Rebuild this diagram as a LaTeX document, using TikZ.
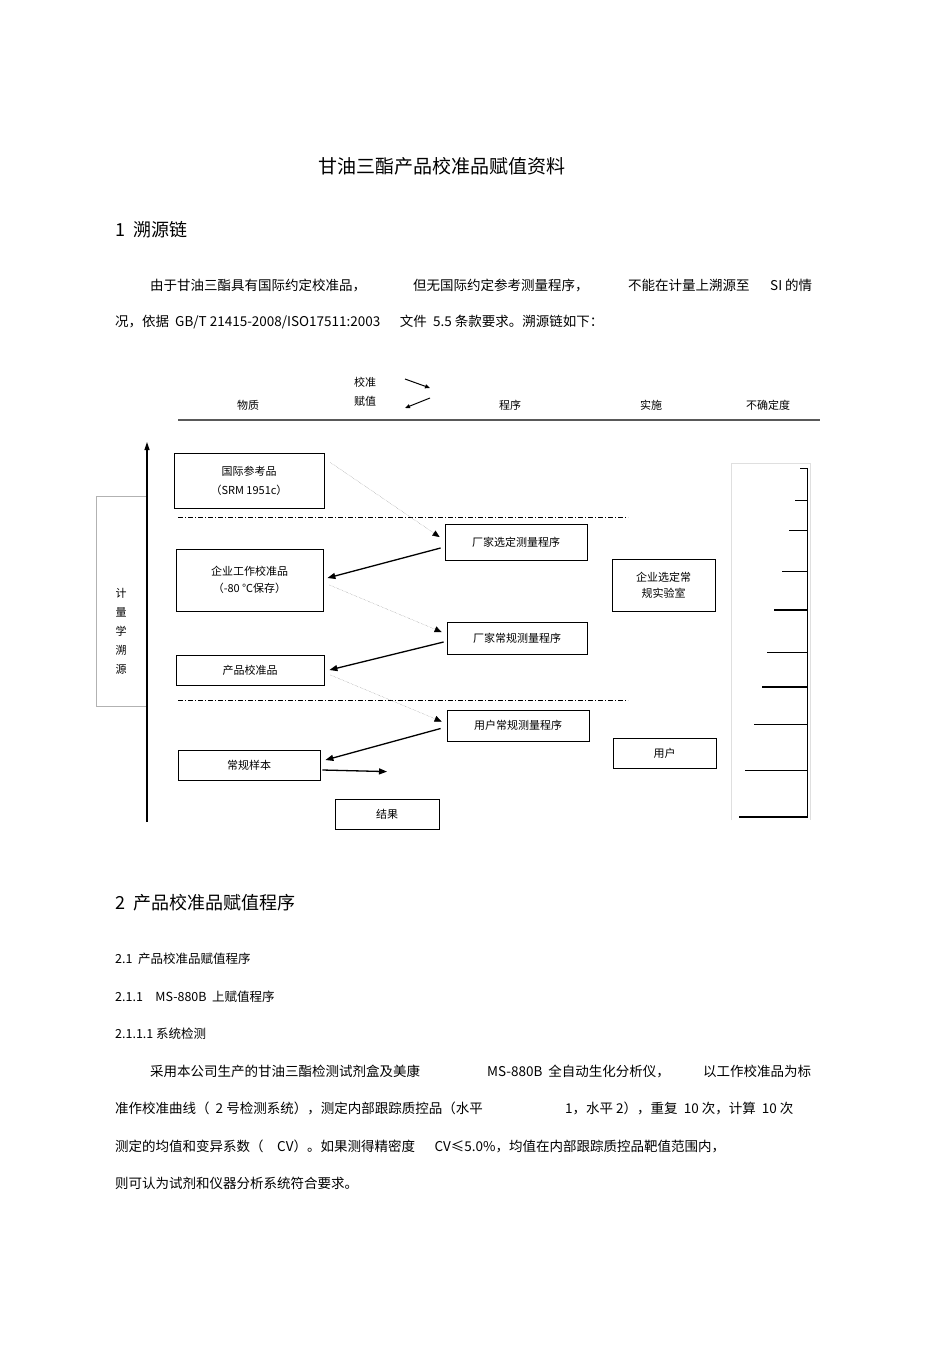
\documentclass[tikz,border=0pt]{standalone}
\usepackage{fontspec}
\setmainfont{Noto Sans CJK SC}
\usetikzlibrary{arrows.meta}
\begin{document}
\begin{tikzpicture}[x=1pt,y=-1pt,
  bx/.style={draw,line width=0.8pt,inner sep=0pt},
  dg/.style={font=\fontsize{11}{13}\selectfont},
  tx/.style={anchor=west,inner sep=0pt,font=\fontsize{13.5}{16}\selectfont},
  dl/.style={densely dotted,gray,-{Triangle[length=7pt,width=6pt,black]}},
  sl/.style={line width=1.3pt,-{Triangle[length=8pt,width=6pt]}},
  dd/.style={dash pattern=on 5pt off 2pt on 1pt off 2pt,line width=0.7pt},
  tk/.style={line width=0.7pt}]
\useasboundingbox (0,0) rectangle (950,1345);
% texts
\node[inner sep=0pt,font=\fontsize{19}{22}\selectfont] (title) at (442,166) {甘油三酯产品校准品赋值资料};
\node[tx,font=\fontsize{18}{21}\selectfont] (h1) at (115,230) {1\ \ 溯源链};
\node[tx] (p1a) at (150,285) {由于甘油三酯具有国际约定校准品，};
\node[tx] (p1b) at (413,285) {但无国际约定参考测量程序，};
\node[tx] (p1c) at (628,285) {不能在计量上溯源至};
\node[tx] (p1d) at (770,285) {SI 的情};
\node[tx] (p2) at (115,322) {况，依据\ \ GB/T 21415-2008/ISO17511:2003\quad\ \ 文件\ \ 5.5 条款要求。溯源链如下：};
\node[tx,font=\fontsize{18}{21}\selectfont] (h2) at (115,903) {2\ \ 产品校准品赋值程序};
\node[tx,font=\fontsize{12.5}{15}\selectfont] (h21) at (115,959) {2.1\ \ 产品校准品赋值程序};
\node[tx,font=\fontsize{12.5}{15}\selectfont] (h211) at (115,997) {2.1.1\quad MS-880B\ \ 上赋值程序};
\node[tx,font=\fontsize{12.5}{15}\selectfont] (h2111) at (115,1034) {2.1.1.1 系统检测};
\node[tx] (q1a) at (150,1071) {采用本公司生产的甘油三酯检测试剂盒及美康};
\node[tx] (q1b) at (487,1071) {MS-880B\ \ 全自动生化分析仪，};
\node[tx] (q1c) at (703,1071) {以工作校准品为标};
\node[tx] (q2a) at (115,1108) {准作校准曲线（\ \ 2 号检测系统），测定内部跟踪质控品（水平};
\node[tx] (q2b) at (565,1108) {1，水平\ 2），重复\ \ 10 次，计算\ \ 10 次};
\node[tx] (q3) at (115,1146) {测定的均值和变异系数（\quad CV）。如果测得精密度\quad\ \ CV≤5.0\%，均值在内部跟踪质控品靶值范围内，};
\node[tx] (q4) at (115,1183) {则可认为试剂和仪器分析系统符合要求。};
% header
\node[dg] (wz) at (248,405) {物质};
\node[dg] (jz) at (365,382) {校准};
\node[dg] (fz) at (365,401) {赋值};
\node[dg] (cx) at (510,405) {程序};
\node[dg] (ss) at (651,405) {实施};
\node[dg] (bq) at (768,405) {不确定度};
\coordinate (a1) at (405,379); \coordinate (a2) at (430,388);
\coordinate (b1) at (430,398); \coordinate (b2) at (405,408);
\draw[line width=1pt,-{Triangle[length=5pt,width=4pt]}] (a1) -- (a2);
\draw[line width=1pt,-{Triangle[length=5pt,width=4pt]}] (b1) -- (b2);
\coordinate (hl1) at (178,420); \coordinate (hl2) at (820,420);
\draw[line width=1.3pt,gray!70!black] (hl1) -- (hl2);
% left
\draw[gray!60] (147,496) -- (96,496) -- (96,706) -- (147,706);
\node[dg,align=center,inner sep=0pt] (jl) at (121,631) {计\\[6pt]量\\[6pt]学\\[6pt]溯\\[6pt]源};
\coordinate (v1) at (147,822); \coordinate (v2) at (147,442);
\draw[line width=1.2pt,-{Triangle[length=8pt,width=5pt]}] (v1) -- (v2);
% dashdot
\coordinate (d1) at (178,517); \coordinate (d2) at (628,517);
\coordinate (d3) at (178,700); \coordinate (d4) at (628,700);
\draw[dd] (d1) -- (d2); \draw[dd] (d3) -- (d4);
% boxes
\node[bx,dg,minimum width=150,minimum height=55,align=center] (gj) at (249,480.5) {国际参考品\\[6pt]（SRM 1951c）};
\node[bx,dg,minimum width=142,minimum height=36] (cj1) at (516,542) {厂家选定测量程序};
\node[bx,dg,minimum width=147,minimum height=62,align=center] (qy) at (249.5,580) {企业工作校准品\\[4pt]（-80 ℃保存）};
\node[bx,dg,minimum width=140,minimum height=32] (cj2) at (517,638) {厂家常规测量程序};
\node[bx,dg,minimum width=148,minimum height=30] (cp) at (250,670) {产品校准品};
\node[bx,dg,minimum width=142,minimum height=31] (yh1) at (518,725.5) {用户常规测量程序};
\node[bx,dg,minimum width=142,minimum height=30] (cg) at (249,765) {常规样本};
\node[bx,dg,minimum width=104,minimum height=30] (jg) at (387,814) {结果};
\node[bx,dg,minimum width=103,minimum height=52,align=center] (lab) at (663.5,585) {企业选定常\\[3pt]规实验室};
\node[bx,dg,minimum width=103,minimum height=30] (yh) at (664.5,753) {用户};
% arrows
\draw[dl] ([shift={(6,-18)}]gj.east) -- ([shift={(-5,-5)}]cj1.west);
\draw[dl] ([shift={(6,5)}]qy.east) -- ([shift={(-5,-6)}]cj2.west);
\draw[dl] ([shift={(6,5)}]cp.east) -- ([shift={(-5,-4)}]yh1.west);
\draw[sl] ([shift={(-4,6)}]cj1.west) -- ([shift={(4,-2)}]qy.east);
\draw[sl] ([shift={(-3,4)}]cj2.west) -- ([shift={(5,0)}]cp.east);
\draw[sl] ([shift={(-6,3)}]yh1.west) -- ([shift={(5,-5)}]cg.east);
\draw[sl] ([shift={(2,5)}]cg.east) -- ([shift={(0,-27)}]jg.north);
% scale
\draw[gray!25] (731,820) -- (731,463) -- (810,463) -- (810,820);
\coordinate (s1) at (807,468); \coordinate (s2) at (807,818);
\draw[line width=1pt] (s1) -- (s2);
\foreach \y/\x/\w in {468/800/0.7,500/795/0.7,530/789/0.7,571/782/0.7,610/774/1.4,652/767/0.7,687/762/1.4,724/754/0.7,770/745/0.7,817/739/1.6}
  \draw[line width=\w pt] (\x,\y) -- (807,\y);
\end{tikzpicture}
\end{document}
